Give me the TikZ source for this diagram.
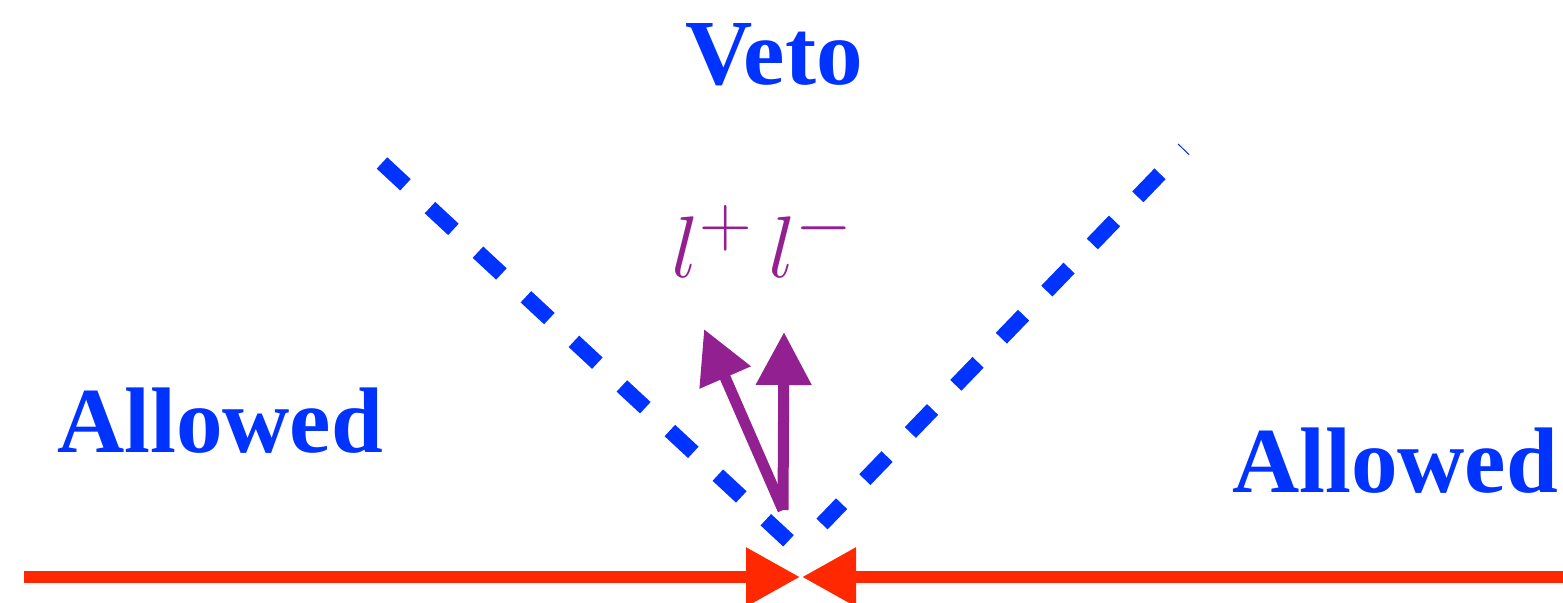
\documentclass[tikz,border=0pt]{standalone}
\usepackage{fontspec}
\setmainfont{Liberation Serif}
\usepackage{tikz}
\usetikzlibrary{arrows.meta,positioning,calc}
\definecolor{vetoblue}{RGB}{0,51,255}
\definecolor{beamred}{RGB}{255,40,0}
\definecolor{leptpurple}{RGB}{146,32,144}

\begin{document}
\begin{tikzpicture}[
  x=0.1mm, y=-0.1mm,
  lbl/.style={font=\fontsize{26.5}{30}\selectfont\bfseries, text=vetoblue,
              inner sep=0pt, anchor=base},
  beam/.style={draw=beamred, line width=0.12cm,
               -{Triangle[length=0.54cm, width=0.56cm]}},
  lep/.style={draw=leptpurple, line width=0.11cm,
              -{Triangle[length=0.53cm, width=0.53cm]}},
  cone/.style={draw=vetoblue, line width=0.155cm,
               dash pattern=on 0.32cm off 0.335cm}
]
\useasboundingbox (0,0) rectangle (1563,603);

% --- region labels ------------------------------------------------------
\node[lbl] (veto) at (774,85) {Veto};
\node[lbl] (allowedL) at (220,452) {Allowed};
\node[lbl] (allowedR) at (1395,492) {Allowed};
\node[text=leptpurple, inner sep=0pt, anchor=base,
      font=\fontsize{28}{32}\selectfont] (leptons) at (763,278)
     {$l^{+}\mkern3mu l^{-}$};

% --- veto cone edges ----------------------------------------------------
\coordinate (coneLtop) at (382,163);
\coordinate (coneLbot) at (788.5,540.8);
\coordinate (coneRtop) at (1184,149);
\coordinate (coneRbot) at (822,524);
\draw[cone] (coneLtop) -- (coneLbot);
\draw[cone, dash phase=0.31cm] (coneRtop) -- (coneRbot);

% --- colliding beams ----------------------------------------------------
\coordinate (beamL) at (24,577);
\coordinate (beamR) at (1563,577);
\coordinate (ipL) at (800,577);
\coordinate (ipR) at (802,577);
\draw[beam] (beamL) -- (ipL);
\draw[beam] (beamR) -- (ipR);

% --- lepton pair --------------------------------------------------------
\coordinate (vtx) at (783,510);
\coordinate (lepA) at (704,329);
\coordinate (lepB) at (784,332);
\draw[lep] (vtx) -- (lepA);
\draw[lep] (vtx) -- (lepB);

\end{tikzpicture}
\end{document}
